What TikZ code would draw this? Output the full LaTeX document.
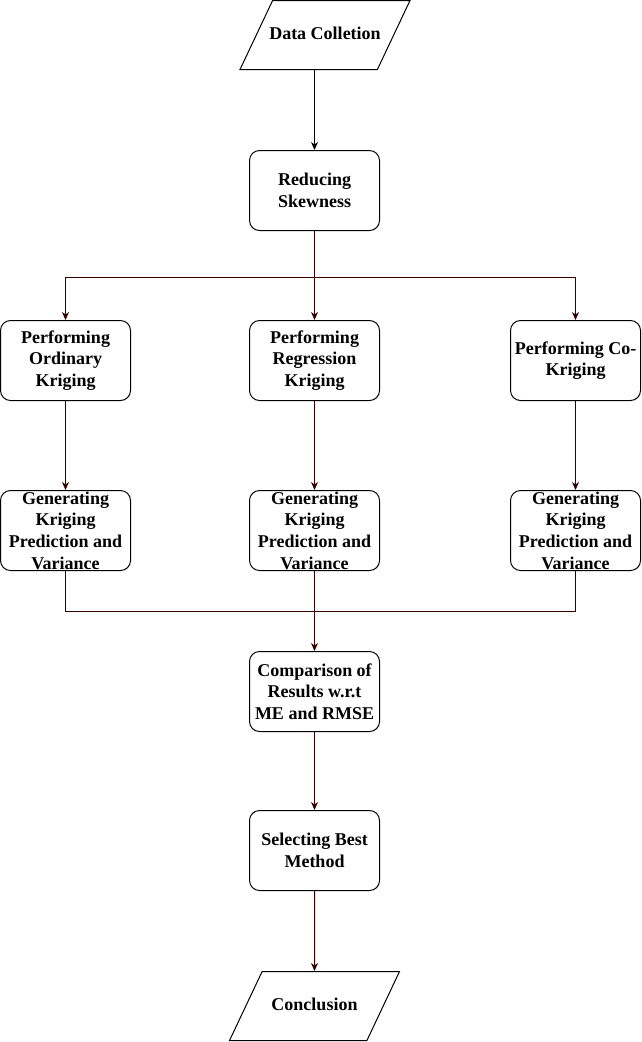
\documentclass[tikz,border=0pt]{standalone}
\usepackage{fontspec}
\setmainfont{Liberation Serif}
\usetikzlibrary{arrows.meta,positioning,shapes.geometric}
\definecolor{wire}{HTML}{330000}

\begin{document}
\begin{tikzpicture}
[x=1bp,y=1bp,>={Stealth[length=8bp,width=7bp,inset=2.5bp]},line width=1bp,
 font=\bfseries\fontsize{18bp}{21.6bp}\selectfont]
\tikzstyle{process}=[draw=black,rounded corners=10bp,minimum width=130bp,
 minimum height=80bp,align=center,inner sep=0pt]
\tikzstyle{io}=[draw=black,trapezium,trapezium left angle=64.7,
 trapezium right angle=115.3,trapezium stretches body=true,
 text height=12bp,text depth=4bp,inner ysep=26.5bp,inner xsep=-4bp,
 minimum width=170bp]
\tikzstyle{link}=[draw=wire,line width=1bp]
\useasboundingbox (0,0) rectangle (642,-1042);

\node[io] (data) at (325,-35) {Data Colletion};
\node[process] (reduce) [below=80bp of data, xshift=-10.5bp] {Reducing\\Skewness};
\node[process] (regress) [below=89bp of reduce] {Performing\\Regression\\Kriging};
\node[process] (ordinary) [left=118bp of regress] {Performing\\Ordinary\\Kriging};
\node[process] (cokrig) [right=130bp of regress] {Performing Co-\\Kriging};
\node[process] (genregress) [below=89bp of regress] {Generating\\Kriging\\Prediction and\\Variance};
\node[process] (genordinary) [below=89bp of ordinary] {Generating\\Kriging\\Prediction and\\Variance};
\node[process] (gencokrig) [below=89bp of cokrig] {Generating\\Kriging\\Prediction and\\Variance};
\node[process] (compare) [below=80bp of genregress] {Comparison of\\Results w.r.t\\ME and RMSE};
\node[process] (best) [below=78bp of compare] {Selecting Best\\Method};
\node[io] (concl) [below=80bp of best] {Conclusion};

\coordinate [below=46bp of reduce] (split);
\coordinate [below=40bp of genregress] (merge);

\draw[->, line width=1bp] (data.south -| reduce) -- (reduce);
\path[link] (reduce) -- (split);
\draw[link,->] (split) -| (ordinary);
\draw[link,->] (split) -- (regress);
\draw[link,->] (split) -| (cokrig);

\draw[link,->] (ordinary) -- (genordinary);
\draw[link,->] (regress) -- (genregress);
\draw[link,->] (cokrig) -- (gencokrig);

\path[link] (genordinary) |- (merge) -| (gencokrig);
\draw[link,->] (genregress) -- (compare);
\draw[link,->] (compare) -- (best);
\draw[link,->] (best) -- (concl);
\end{tikzpicture}
\end{document}
